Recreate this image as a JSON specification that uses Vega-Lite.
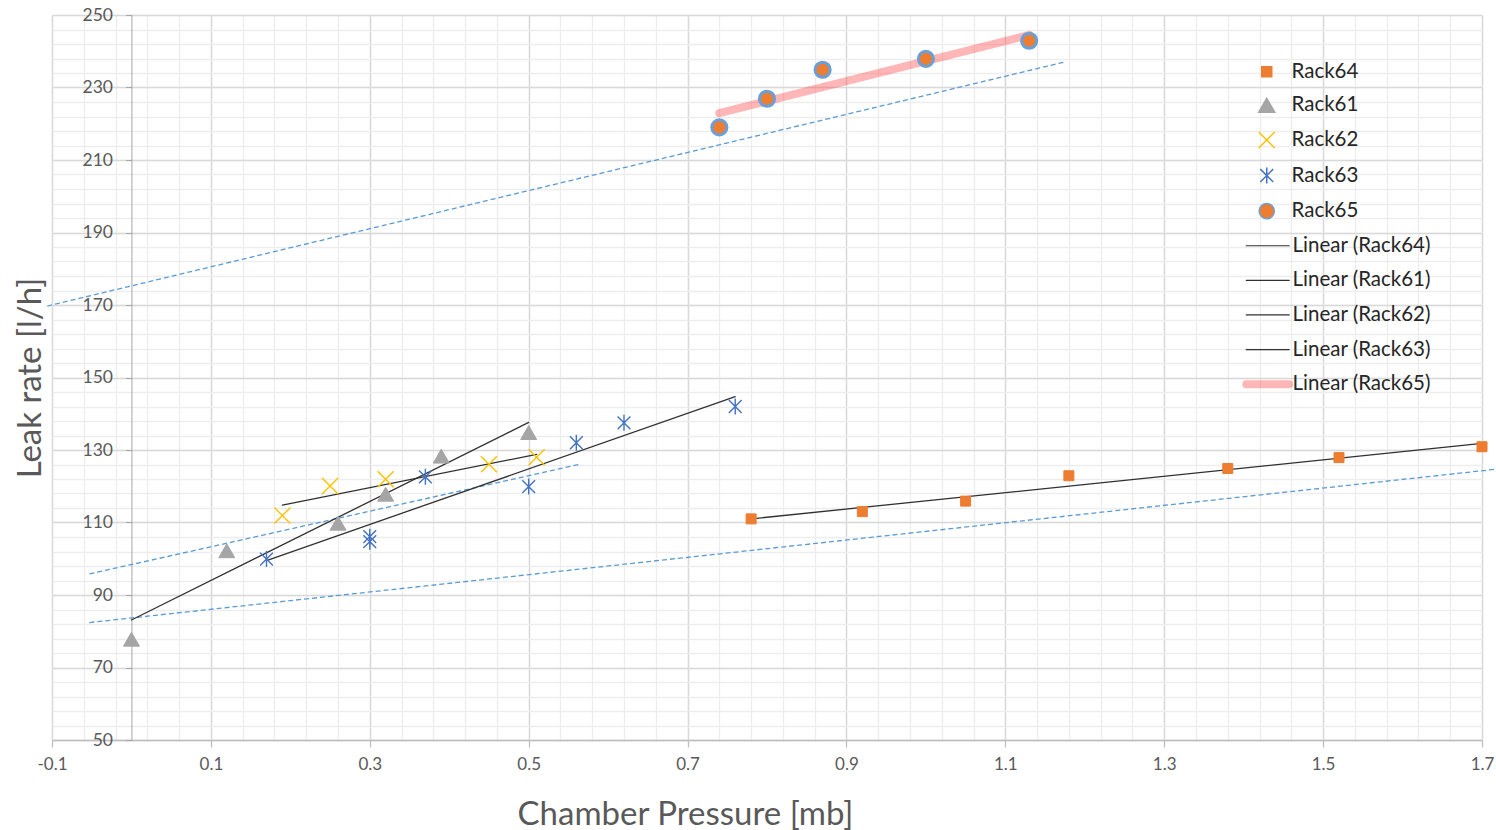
{
  "$schema": "https://vega.github.io/schema/vega-lite/v6.json",
  "width": 1430,
  "height": 725,
  "autosize": {"type": "none"},
  "padding": {"left": 52, "top": 15, "right": 14, "bottom": 90},
  "background": "white",
  "config": {"view": {"stroke": null}, "font": "Lato"},
  "data": {
    "values": [
      {"k": "pt", "s": "Rack64", "x": 0.78, "y": 111.0},
      {"k": "pt", "s": "Rack64", "x": 0.92, "y": 113.0},
      {"k": "pt", "s": "Rack64", "x": 1.05, "y": 115.9},
      {"k": "pt", "s": "Rack64", "x": 1.18, "y": 122.9},
      {"k": "pt", "s": "Rack64", "x": 1.38, "y": 124.9},
      {"k": "pt", "s": "Rack64", "x": 1.52, "y": 127.9},
      {"k": "pt", "s": "Rack64", "x": 1.70, "y": 130.9},
      {"k": "pt", "s": "Rack61", "x": 0.0, "y": 77.8},
      {"k": "pt", "s": "Rack61", "x": 0.12, "y": 102.2},
      {"k": "pt", "s": "Rack61", "x": 0.26, "y": 109.8},
      {"k": "pt", "s": "Rack61", "x": 0.32, "y": 117.8},
      {"k": "pt", "s": "Rack61", "x": 0.39, "y": 128.3},
      {"k": "pt", "s": "Rack61", "x": 0.50, "y": 134.8},
      {"k": "pt", "s": "Rack62", "x": 0.19, "y": 111.9},
      {"k": "pt", "s": "Rack62", "x": 0.25, "y": 120.1},
      {"k": "pt", "s": "Rack62", "x": 0.32, "y": 121.9},
      {"k": "pt", "s": "Rack62", "x": 0.45, "y": 126.1},
      {"k": "pt", "s": "Rack62", "x": 0.51, "y": 128.0},
      {"k": "pt", "s": "Rack63", "x": 0.17, "y": 99.9},
      {"k": "pt", "s": "Rack63", "x": 0.30, "y": 106.1},
      {"k": "pt", "s": "Rack63", "x": 0.30, "y": 104.7},
      {"k": "pt", "s": "Rack63", "x": 0.37, "y": 122.6},
      {"k": "pt", "s": "Rack63", "x": 0.50, "y": 119.9},
      {"k": "pt", "s": "Rack63", "x": 0.56, "y": 132.0},
      {"k": "pt", "s": "Rack63", "x": 0.62, "y": 137.5},
      {"k": "pt", "s": "Rack63", "x": 0.76, "y": 142.0},
      {"k": "pt", "s": "Rack65", "x": 0.74, "y": 219.0},
      {"k": "pt", "s": "Rack65", "x": 0.80, "y": 226.9},
      {"k": "pt", "s": "Rack65", "x": 0.87, "y": 234.9},
      {"k": "pt", "s": "Rack65", "x": 1.00, "y": 237.9},
      {"k": "pt", "s": "Rack65", "x": 1.13, "y": 242.9},
      {"k": "trend", "s": "Linear (Rack64)", "x": 0.78, "y": 111.0},
      {"k": "trend", "s": "Linear (Rack64)", "x": 1.70, "y": 131.8},
      {"k": "trend", "s": "Linear (Rack61)", "x": 0.0, "y": 83.1},
      {"k": "trend", "s": "Linear (Rack61)", "x": 0.50, "y": 137.6},
      {"k": "trend", "s": "Linear (Rack62)", "x": 0.19, "y": 114.8},
      {"k": "trend", "s": "Linear (Rack62)", "x": 0.51, "y": 128.8},
      {"k": "trend", "s": "Linear (Rack63)", "x": 0.17, "y": 99.5},
      {"k": "trend", "s": "Linear (Rack63)", "x": 0.76, "y": 144.7},
      {"k": "trend", "s": "Linear (Rack65)", "x": 0.74, "y": 222.9},
      {"k": "trend", "s": "Linear (Rack65)", "x": 1.13, "y": 244.5},
      {"k": "dash", "s": "d1", "x": -0.106, "y": 169.7},
      {"k": "dash", "s": "d1", "x": 1.173, "y": 236.95},
      {"k": "dash", "s": "d2", "x": -0.053, "y": 95.8},
      {"k": "dash", "s": "d2", "x": 0.5647, "y": 126.1},
      {"k": "dash", "s": "d3", "x": -0.053, "y": 82.4},
      {"k": "dash", "s": "d3", "x": 1.7177, "y": 124.7}
    ]
  },
  "resolve": {
    "scale": {"strokeWidth": "independent"},
    "axis": {"x": "independent", "y": "independent"},
    "legend": {"strokeWidth": "independent"}
  },
  "layer": [
    {
      "transform": [{"filter": "datum.k == 'dash'"}],
      "mark": {"type": "line", "color": "#5B9BD5", "strokeWidth": 1.3, "strokeDash": [5, 3], "clip": false},
      "encoding": {
        "x": {
          "field": "x", "type": "quantitative",
          "scale": {"domain": [-0.1, 1.7], "nice": false, "zero": false},
          "axis": {
            "orient": "bottom", "values": [-0.1,-0.06,-0.02,0.02,0.06,0.1,0.14,0.18,0.22,0.26,0.3,0.34,0.38,0.42,0.46,0.5,0.54,0.58,0.62,0.66,0.7,0.74,0.78,0.82,0.86,0.9,0.94,0.98,1.02,1.06,1.1,1.14,1.18,1.22,1.26,1.3,1.34,1.38,1.42,1.46,1.5,1.54,1.58,1.62,1.66,1.7],
            "grid": true, "gridColor": "#ededed", "gridWidth": 1.4,
            "labels": false, "ticks": false, "domain": false, "title": null
          }
        },
        "y": {
          "field": "y", "type": "quantitative",
          "scale": {"domain": [50, 250], "nice": false, "zero": false},
          "axis": {
            "orient": "left", "values": [50,54,58,62,66,70,74,78,82,86,90,94,98,102,106,110,114,118,122,126,130,134,138,142,146,150,154,158,162,166,170,174,178,182,186,190,194,198,202,206,210,214,218,222,226,230,234,238,242,246,250],
            "grid": true, "gridColor": "#ededed", "gridWidth": 1.4,
            "labels": false, "ticks": false, "domain": false, "title": null
          }
        },
        "detail": {"field": "s", "type": "nominal"}
      }
    },
    {
      "transform": [{"filter": "datum.k == 'trend'"}],
      "mark": {"type": "line", "strokeCap": "round"},
      "encoding": {
        "x": {"field": "x", "type": "quantitative", "axis": null},
        "y": {"field": "y", "type": "quantitative", "axis": null},
        "color": {
          "field": "s", "type": "nominal",
          "scale": {
            "domain": ["Linear (Rack64)", "Linear (Rack61)", "Linear (Rack62)", "Linear (Rack63)", "Linear (Rack65)"],
            "range": ["#303030", "#303030", "#303030", "#303030", "rgba(255,80,80,0.42)"]
          },
          "legend": {
            "orient": "none", "legendX": 1205.5, "legendY": 220.5, "title": null,
            "symbolType": "M-4.3,0L4.3,0", "symbolSize": 100,
            "labelFont": "Lato", "labelFontSize": 20.5, "labelColor": "#262626",
            "labelOffset": 14.5, "rowPadding": 13.6, "padding": 0, "offset": 0,
            "encode": {"symbols": {"update": {
              "strokeCap": {"value": "round"},
              "strokeJoin": {"value": "round"},
              "strokeWidth": {"signal": "datum.value == 'Linear (Rack65)' ? 8 : 1.2"},
              "stroke": {"signal": "datum.value == 'Linear (Rack65)' ? 'rgba(255,80,80,0.42)' : '#6a6a6a'"}
            }}}
          }
        },
        "strokeWidth": {
          "field": "s", "type": "nominal",
          "scale": {
            "type": "ordinal",
            "domain": ["Linear (Rack64)", "Linear (Rack61)", "Linear (Rack62)", "Linear (Rack63)", "Linear (Rack65)"],
            "range": [1.3, 1.3, 1.3, 1.3, 8]
          },
          "legend": null
        }
      }
    },
    {
      "transform": [{"filter": "datum.k == 'pt'"}],
      "mark": {"type": "point", "filled": true, "opacity": 1, "strokeWidth": 1.4},
      "encoding": {
        "x": {
          "field": "x", "type": "quantitative",
          "axis": {
            "orient": "bottom",
            "values": [-0.1, 0.1, 0.3, 0.5, 0.7, 0.9, 1.1, 1.3, 1.5, 1.7],
            "labelExpr": "replace(format(datum.value, '.1f'), '\u2212', '-')",
            "grid": true, "gridColor": "#d9d9d9", "gridWidth": 1.5,
            "domainColor": "#bfbfbf", "domainWidth": 1.3,
            "tickColor": "#bfbfbf", "tickSize": 7, "tickWidth": 1.3,
            "labelFont": "Lato", "labelFontSize": 17, "labelColor": "#595959", "labelPadding": 9,
            "labelFlush": false, "labelOverlap": false,
            "title": "Chamber Pressure [mb]", "titleFont": "Lato", "titleFontSize": 33,
            "titleFontWeight": "normal", "titleColor": "#595959",
            "titleX": 633, "titleY": 74, "titleAlign": "center", "titleBaseline": "middle"
          }
        },
        "y": {
          "field": "y", "type": "quantitative",
          "axis": {
            "orient": "left", "offset": -79.44,
            "values": [50, 70, 90, 110, 130, 150, 170, 190, 210, 230, 250],
            "grid": true, "gridColor": "#d9d9d9", "gridWidth": 1.5,
            "domainColor": "#a6a6a6", "domainWidth": 1,
            "tickColor": "#a6a6a6", "tickSize": 6, "tickWidth": 1,
            "labelFont": "Lato", "labelFontSize": 17.5, "labelColor": "#595959", "labelPadding": 13,
            "labelFlush": false, "labelOverlap": false,
            "title": "Leak rate [l/h]", "titleFont": "Lato", "titleFontSize": 33,
            "titleFontWeight": "normal", "titleColor": "#595959",
            "titleX": -101.4, "titleY": 362.5, "titleAngle": -90, "titleAlign": "center", "titleBaseline": "middle"
          }
        },
        "shape": {
          "field": "s", "type": "nominal",
          "scale": {
            "domain": ["Rack64", "Rack61", "Rack62", "Rack63", "Rack65"],
            "range": ["square", "triangle-up", "M-1,-1L1,1M-1,1L1,-1", "M0,-1L0,1M-0.8,-0.8L0.8,0.8M-0.8,0.8L0.8,-0.8", "circle"]
          },
          "legend": {
            "orient": "none", "legendX": 1204.5, "legendY": 46.5, "title": null,
            "labelFont": "Lato", "labelFontSize": 20.5, "labelColor": "#262626",
            "labelOffset": 14.5, "rowPadding": 12.6, "padding": 0, "offset": 0
          }
        },
        "fill": {
          "field": "s", "type": "nominal",
          "scale": {
            "domain": ["Rack64", "Rack61", "Rack62", "Rack63", "Rack65"],
            "range": ["#ED7D31", "#A5A5A5", "#FFC000", "#4472C4", "#ED7D31"]
          }
        },
        "stroke": {
          "field": "s", "type": "nominal",
          "scale": {
            "domain": ["Rack64", "Rack61", "Rack62", "Rack63", "Rack65"],
            "range": ["#ED7D31", "#A5A5A5", "#FFC000", "#4472C4", "#6A9FD8"]
          }
        },
        "size": {
          "field": "s", "type": "nominal",
          "scale": {
            "type": "ordinal",
            "domain": ["Rack64", "Rack61", "Rack62", "Rack63", "Rack65"],
            "range": [100, 256, 256, 256, 230]
          }
        },
        "strokeWidth": {
          "field": "s", "type": "nominal",
          "scale": {
            "type": "ordinal",
            "domain": ["Rack64", "Rack61", "Rack62", "Rack63", "Rack65"],
            "range": [1, 1, 1.4, 1.4, 3]
          }
        }
      }
    }
  ]
}
